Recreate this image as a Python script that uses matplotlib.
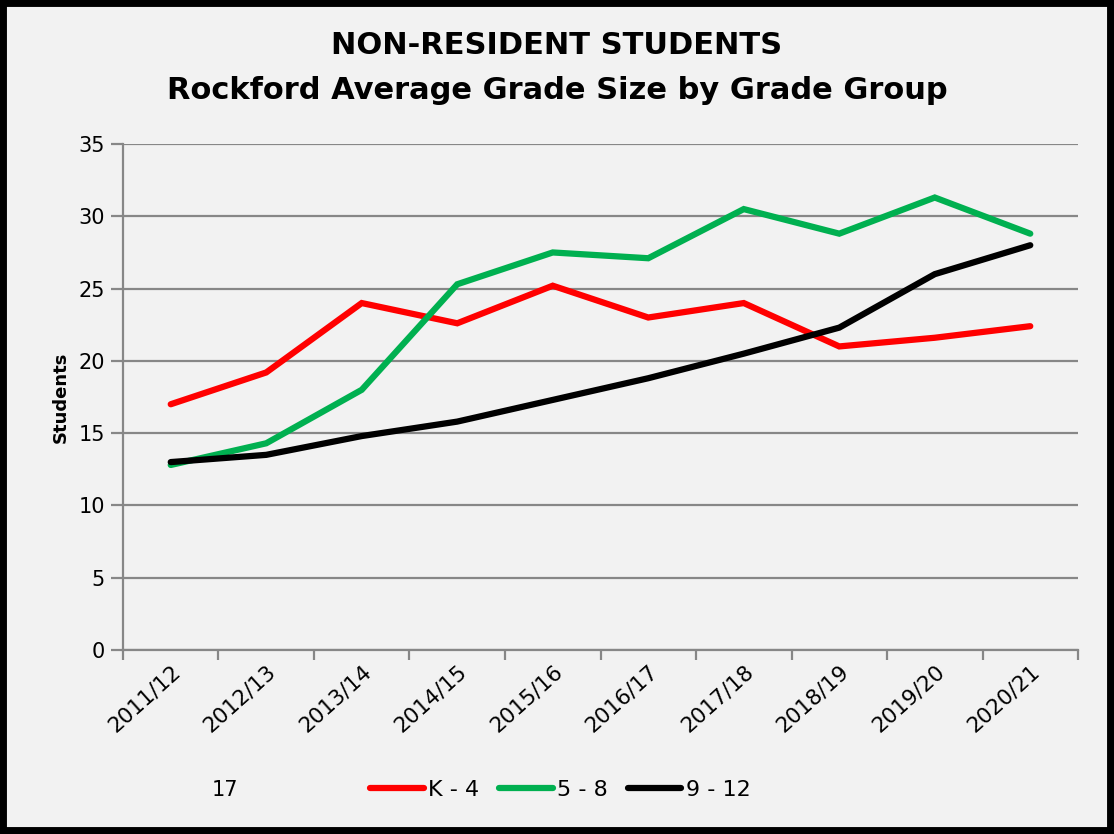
import matplotlib
matplotlib.use("Agg")
import matplotlib.pyplot as plt
from matplotlib.patches import Rectangle
from matplotlib.lines import Line2D

# data
years = ["2011/12", "2012/13", "2013/14", "2014/15", "2015/16",
         "2016/17", "2017/18", "2018/19", "2019/20", "2020/21"]
k_4 = [17.0, 19.2, 24.0, 22.6, 25.2, 23.0, 24.0, 21.0, 21.6, 22.4]
g5_8 = [12.8, 14.3, 18.0, 25.3, 27.5, 27.1, 30.5, 28.8, 31.3, 28.8]
g9_12 = [13.0, 13.5, 14.8, 15.8, 17.3, 18.8, 20.5, 22.3, 26.0, 28.0]
series_names = ["K - 4", "5 - 8", "9 - 12"]
series_colors = ["#FF0000", "#00B050", "#000000"]

plt.rcParams['font.family'] = ['DejaVu Sans']
bg = "#F2F2F2"
grid_c = "#878787"

fig = plt.figure(figsize=(11.14, 8.34), dpi=100, facecolor=bg)
ax = fig.add_axes([0.1104, 0.2206, 0.8573, 0.6067], facecolor=bg)

x = list(range(len(years)))
for vals, name, col in zip([k_4, g5_8, g9_12], series_names, series_colors):
    ax.plot(x, vals, color=col, lw=4.5, solid_capstyle='round',
            solid_joinstyle='miter', label=name)

ax.set_xlim(-0.5, len(years) - 0.5)
ax.set_ylim(0, 35)
ax.set_yticks(range(0, 36, 5))
ax.yaxis.grid(True, color=grid_c, lw=1.6)
ax.set_axisbelow(True)

ax.set_xticks(x)
ax.set_xticklabels(years, rotation=42, ha='right', va='top',
                   rotation_mode='anchor', fontsize=15.5)
ax.set_xticks([i - 0.5 for i in range(len(years) + 1)], minor=True)
ax.tick_params(axis='x', which='major', length=0, pad=8)
ax.tick_params(axis='x', which='minor', length=7, width=1.6, color=grid_c)
ax.tick_params(axis='y', length=9, width=1.6, color=grid_c, labelsize=15, pad=4)

for s in ['top', 'right']:
    ax.spines[s].set_visible(False)
for s in ['left', 'bottom']:
    ax.spines[s].set_color(grid_c)
    ax.spines[s].set_linewidth(1.6)

ax.set_ylabel("Students", fontsize=13, fontweight='bold', labelpad=6)

fig.text(0.5, 0.945, "NON-RESIDENT STUDENTS", ha='center', va='center',
         fontsize=22, fontweight='bold')
fig.text(0.5, 0.892, "Rockford Average Grade Size by Grade Group", ha='center',
         va='center', fontsize=22, fontweight='bold')

# legend row at the bottom
fig.text(0.202, 0.053, "17", ha='center', va='center', fontsize=15)
handles = [Line2D([0], [0], color=c, lw=4.5, solid_capstyle='round')
           for c in series_colors]
fig.legend(handles, series_names, loc='center', bbox_to_anchor=(0.503, 0.053),
           ncol=3, frameon=False, fontsize=16, handlelength=2.4,
           handletextpad=0.2, columnspacing=0.9)

fig.patches.append(Rectangle((0, 0), 1, 1, transform=fig.transFigure,
                             fill=False, edgecolor='black', lw=10))

fig.savefig("out.png", dpi=100, facecolor=bg)
